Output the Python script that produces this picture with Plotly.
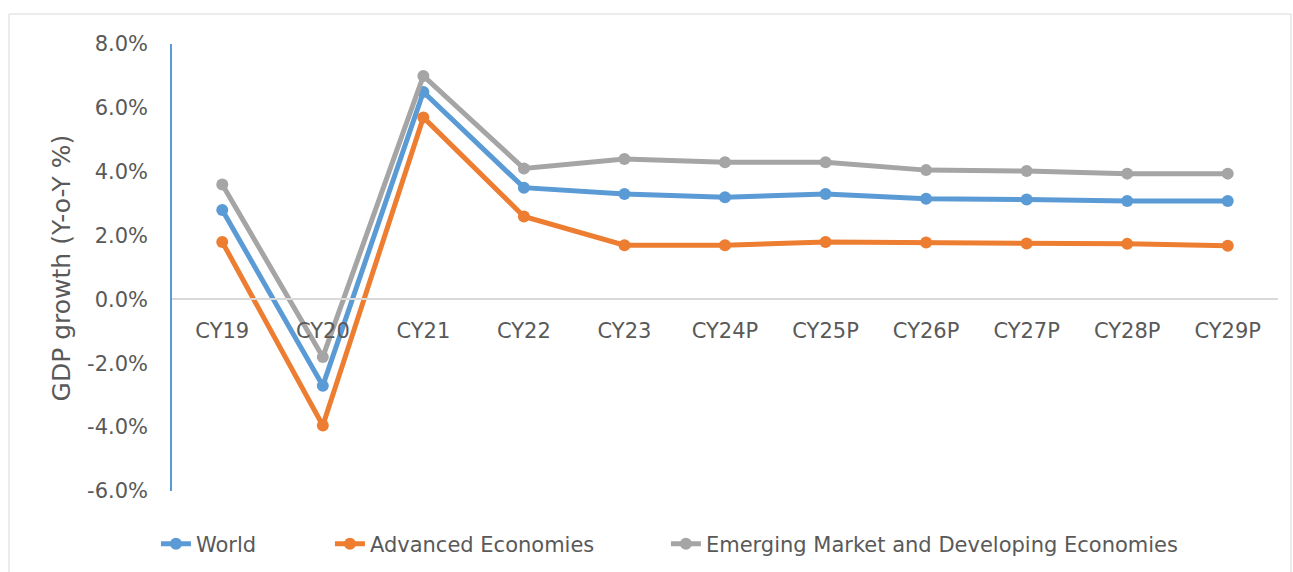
import plotly.graph_objects as go

years = ["CY19", "CY20", "CY21", "CY22", "CY23", "CY24P", "CY25P", "CY26P", "CY27P", "CY28P", "CY29P"]
world = [2.8, -2.7, 6.5, 3.5, 3.3, 3.2, 3.3, 3.15, 3.13, 3.08, 3.08]
advanced = [1.8, -3.95, 5.7, 2.6, 1.7, 1.7, 1.8, 1.78, 1.75, 1.74, 1.68]
emerging = [3.6, -1.8, 7.0, 4.1, 4.4, 4.3, 4.3, 4.05, 4.02, 3.94, 3.94]

y_ticks = [-6, -4, -2, 0, 2, 4, 6, 8]
y_tick_labels = ["-6.0%", "-4.0%", "-2.0%", "0.0%", "2.0%", "4.0%", "6.0%", "8.0%"]

series = [
    ("World", world, "#5B9BD5", "legend"),
    ("Advanced Economies", advanced, "#ED7D31", "legend2"),
    ("Emerging Market and Developing Economies", emerging, "#A5A5A5", "legend3"),
]

font_family = "DejaVu Sans"
text_color = "#595959"

fig = go.Figure()

for name, vals, color, leg in series:
    fig.add_trace(go.Scatter(
        x=years, y=vals,
        name=name,
        legend=leg,
        mode="lines+markers",
        line=dict(color=color, width=5),
        marker=dict(color=color, size=12),
    ))

# each legend entry placed on its own, the way Excel spreads them out
legend_style = dict(
    orientation="h",
    xanchor="left",
    y=-0.1186, yanchor="middle",
    font=dict(size=21, color=text_color),
    bgcolor="rgba(0,0,0,0)",
)

fig.update_layout(
    width=1293, height=572,
    plot_bgcolor="white",
    paper_bgcolor="white",
    margin=dict(l=172, r=15, t=44, b=81, autoexpand=False),
    font=dict(family=font_family, size=21, color=text_color),
    showlegend=True,
    legend=dict(x=-0.0145, **legend_style),
    legend2=dict(x=0.1428, **legend_style),
    legend3=dict(x=0.4466, **legend_style),
    shapes=[dict(
        type="rect", xref="paper", yref="paper",
        x0=-0.1474, x1=1.0118, y0=-0.2, y1=1.067,
        line=dict(color="#D9D9D9", width=1),
        layer="below",
    )],
    annotations=[dict(
        text="GDP growth (Y-o-Y %)",
        xref="paper", yref="paper",
        x=-0.0995, y=0.5, xanchor="center", yanchor="middle",
        textangle=-90, showarrow=False,
        font=dict(size=25, color=text_color),
    )],
)

fig.update_xaxes(
    type="category",
    range=[-0.5, 10.5],
    anchor="free",
    position=6 / 14,
    showline=True,
    linecolor="#D9D9D9",
    linewidth=2,
    showgrid=False,
    zeroline=False,
    ticks="",
    ticklabelstandoff=12,
    tickfont=dict(size=21, color=text_color),
)

fig.update_yaxes(
    range=[-6, 8],
    tickvals=y_ticks,
    ticktext=y_tick_labels,
    showline=True,
    linecolor="#5B9BD5",
    linewidth=1.5,
    showgrid=False,
    zeroline=False,
    ticks="",
    ticklabelstandoff=18,
    tickfont=dict(size=21, color=text_color),
)

fig.write_html(
    "out.html",
    config={"displayModeBar": False},
    post_script="document.body.style.margin='0';",
)
